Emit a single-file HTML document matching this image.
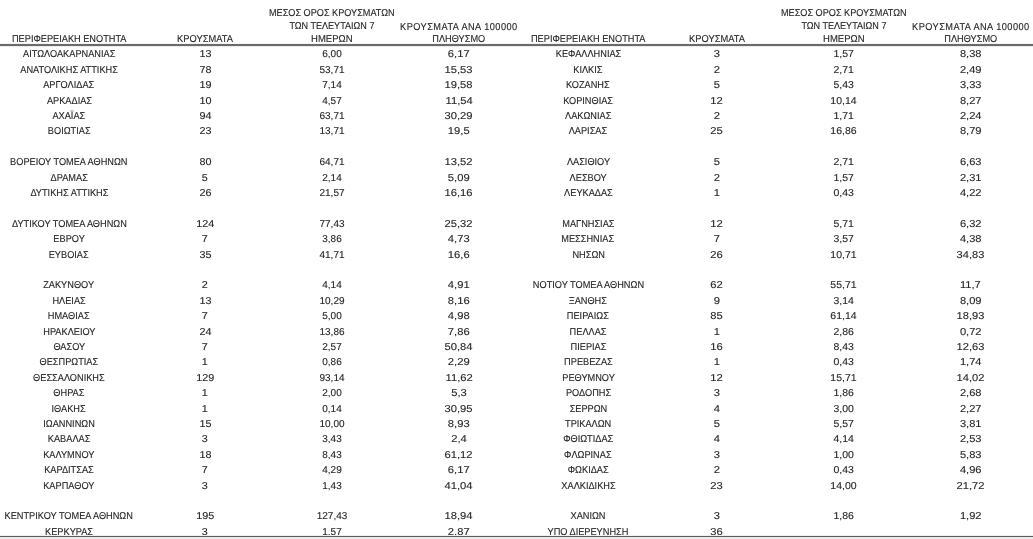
<!DOCTYPE html><html><head><meta charset="utf-8"><style>
html,body{margin:0;padding:0;background:#fff;width:1033px;height:539px;overflow:hidden;position:relative}body{filter:grayscale(1)}
body{font-family:"Liberation Sans",sans-serif;color:#262626;text-rendering:geometricPrecision}
.c{position:absolute;width:240px;text-align:center;white-space:nowrap;height:12px;line-height:12px}
.c span{display:inline-block;-webkit-text-stroke:0.12px #262626}
.k0{left:-51.00px;font-size:10px}.k0 span{transform:scaleX(0.92)}
.k1{left:85.20px;font-size:10px}.k1 span{transform:scaleX(1.08)}
.k2{left:212.00px;font-size:10px}.k2 span{transform:scaleX(1.0)}
.k3{left:339.00px;font-size:10px}.k3 span{transform:scaleX(1.12)}
.k4{left:468.20px;font-size:10px}.k4 span{transform:scaleX(0.92)}
.k5{left:597.00px;font-size:10px}.k5 span{transform:scaleX(1.12)}
.k6{left:724.00px;font-size:10px}.k6 span{transform:scaleX(1.05)}
.k7{left:850.70px;font-size:10px}.k7 span{transform:scaleX(1.11)}
.h0{left:-51.00px}
.h1{left:85.20px}
.h2{left:212.00px}
.h3{left:339.00px}
.h4{left:468.20px}
.h5{left:597.00px}
.h6{left:724.00px}
.h7{left:850.70px}
.ln{position:absolute;left:0;width:1033px}
</style></head><body>
<div class="c h0" style="top:33.50px;font-size:10px"><span style="transform:scaleX(0.92)">ΠΕΡΙΦΕΡΕΙΑΚΗ ΕΝΟΤΗΤΑ</span></div>
<div class="c h1" style="top:33.50px;font-size:10px"><span style="transform:scaleX(0.93)">ΚΡΟΥΣΜΑΤΑ</span></div>
<div class="c h2" style="top:7.50px;font-size:10px"><span style="transform:scaleX(0.913)">ΜΕΣΟΣ ΟΡΟΣ ΚΡΟΥΣΜΑΤΩΝ</span></div>
<div class="c h2" style="top:20.50px;font-size:10px"><span style="transform:scaleX(0.905)">ΤΩΝ ΤΕΛΕΥΤΑΙΩΝ 7</span></div>
<div class="c h2" style="top:33.50px;font-size:10px"><span style="transform:scaleX(0.95)">ΗΜΕΡΩΝ</span></div>
<div class="c h3" style="top:22.00px;font-size:10px"><span style="transform:scaleX(0.92);letter-spacing:0.5px">ΚΡΟΥΣΜΑΤΑ ΑΝΑ 100000</span></div>
<div class="c h3" style="top:33.50px;font-size:10px"><span style="transform:scaleX(0.92)">ΠΛΗΘΥΣΜΟ</span></div>
<div class="c h4" style="top:33.50px;font-size:10px"><span style="transform:scaleX(0.92)">ΠΕΡΙΦΕΡΕΙΑΚΗ ΕΝΟΤΗΤΑ</span></div>
<div class="c h5" style="top:33.50px;font-size:10px"><span style="transform:scaleX(0.93)">ΚΡΟΥΣΜΑΤΑ</span></div>
<div class="c h6" style="top:7.50px;font-size:10px"><span style="transform:scaleX(0.913)">ΜΕΣΟΣ ΟΡΟΣ ΚΡΟΥΣΜΑΤΩΝ</span></div>
<div class="c h6" style="top:20.50px;font-size:10px"><span style="transform:scaleX(0.905)">ΤΩΝ ΤΕΛΕΥΤΑΙΩΝ 7</span></div>
<div class="c h6" style="top:33.50px;font-size:10px"><span style="transform:scaleX(0.95)">ΗΜΕΡΩΝ</span></div>
<div class="c h7" style="top:22.00px;font-size:10px"><span style="transform:scaleX(0.92);letter-spacing:0.5px">ΚΡΟΥΣΜΑΤΑ ΑΝΑ 100000</span></div>
<div class="c h7" style="top:33.50px;font-size:10px"><span style="transform:scaleX(0.92)">ΠΛΗΘΥΣΜΟ</span></div>
<div class="ln" style="top:43px;height:1px;background:#f4f4f4"></div>
<div class="ln" style="top:44px;height:1px;background:#6a6a6a"></div>
<div class="ln" style="top:45px;height:1px;background:#6a6a6a"></div>
<div class="ln" style="top:46px;height:1px;background:#ececec"></div>
<div class="c k0" style="top:49.45px"><span>ΑΙΤΩΛΟΑΚΑΡΝΑΝΙΑΣ</span></div>
<div class="c k1" style="top:49.45px"><span>13</span></div>
<div class="c k2" style="top:49.45px"><span>6,00</span></div>
<div class="c k3" style="top:49.45px"><span>6,17</span></div>
<div class="c k0" style="top:64.85px"><span>ΑΝΑΤΟΛΙΚΗΣ ΑΤΤΙΚΗΣ</span></div>
<div class="c k1" style="top:64.85px"><span>78</span></div>
<div class="c k2" style="top:64.85px"><span>53,71</span></div>
<div class="c k3" style="top:64.85px"><span>15,53</span></div>
<div class="c k0" style="top:80.25px"><span>ΑΡΓΟΛΙΔΑΣ</span></div>
<div class="c k1" style="top:80.25px"><span>19</span></div>
<div class="c k2" style="top:80.25px"><span>7,14</span></div>
<div class="c k3" style="top:80.25px"><span>19,58</span></div>
<div class="c k0" style="top:95.65px"><span>ΑΡΚΑΔΙΑΣ</span></div>
<div class="c k1" style="top:95.65px"><span>10</span></div>
<div class="c k2" style="top:95.65px"><span>4,57</span></div>
<div class="c k3" style="top:95.65px"><span>11,54</span></div>
<div class="c k0" style="top:111.05px"><span>ΑΧΑΪΑΣ</span></div>
<div class="c k1" style="top:111.05px"><span>94</span></div>
<div class="c k2" style="top:111.05px"><span>63,71</span></div>
<div class="c k3" style="top:111.05px"><span>30,29</span></div>
<div class="c k0" style="top:126.45px"><span>ΒΟΙΩΤΙΑΣ</span></div>
<div class="c k1" style="top:126.45px"><span>23</span></div>
<div class="c k2" style="top:126.45px"><span>13,71</span></div>
<div class="c k3" style="top:126.45px"><span>19,5</span></div>
<div class="c k0" style="top:157.25px"><span>ΒΟΡΕΙΟΥ ΤΟΜΕΑ ΑΘΗΝΩΝ</span></div>
<div class="c k1" style="top:157.25px"><span>80</span></div>
<div class="c k2" style="top:157.25px"><span>64,71</span></div>
<div class="c k3" style="top:157.25px"><span>13,52</span></div>
<div class="c k0" style="top:172.65px"><span>ΔΡΑΜΑΣ</span></div>
<div class="c k1" style="top:172.65px"><span>5</span></div>
<div class="c k2" style="top:172.65px"><span>2,14</span></div>
<div class="c k3" style="top:172.65px"><span>5,09</span></div>
<div class="c k0" style="top:188.05px"><span>ΔΥΤΙΚΗΣ ΑΤΤΙΚΗΣ</span></div>
<div class="c k1" style="top:188.05px"><span>26</span></div>
<div class="c k2" style="top:188.05px"><span>21,57</span></div>
<div class="c k3" style="top:188.05px"><span>16,16</span></div>
<div class="c k0" style="top:218.85px"><span>ΔΥΤΙΚΟΥ ΤΟΜΕΑ ΑΘΗΝΩΝ</span></div>
<div class="c k1" style="top:218.85px"><span>124</span></div>
<div class="c k2" style="top:218.85px"><span>77,43</span></div>
<div class="c k3" style="top:218.85px"><span>25,32</span></div>
<div class="c k0" style="top:234.25px"><span>ΕΒΡΟΥ</span></div>
<div class="c k1" style="top:234.25px"><span>7</span></div>
<div class="c k2" style="top:234.25px"><span>3,86</span></div>
<div class="c k3" style="top:234.25px"><span>4,73</span></div>
<div class="c k0" style="top:249.65px"><span>ΕΥΒΟΙΑΣ</span></div>
<div class="c k1" style="top:249.65px"><span>35</span></div>
<div class="c k2" style="top:249.65px"><span>41,71</span></div>
<div class="c k3" style="top:249.65px"><span>16,6</span></div>
<div class="c k0" style="top:280.45px"><span>ΖΑΚΥΝΘΟΥ</span></div>
<div class="c k1" style="top:280.45px"><span>2</span></div>
<div class="c k2" style="top:280.45px"><span>4,14</span></div>
<div class="c k3" style="top:280.45px"><span>4,91</span></div>
<div class="c k0" style="top:295.85px"><span>ΗΛΕΙΑΣ</span></div>
<div class="c k1" style="top:295.85px"><span>13</span></div>
<div class="c k2" style="top:295.85px"><span>10,29</span></div>
<div class="c k3" style="top:295.85px"><span>8,16</span></div>
<div class="c k0" style="top:311.25px"><span>ΗΜΑΘΙΑΣ</span></div>
<div class="c k1" style="top:311.25px"><span>7</span></div>
<div class="c k2" style="top:311.25px"><span>5,00</span></div>
<div class="c k3" style="top:311.25px"><span>4,98</span></div>
<div class="c k0" style="top:326.65px"><span>ΗΡΑΚΛΕΙΟΥ</span></div>
<div class="c k1" style="top:326.65px"><span>24</span></div>
<div class="c k2" style="top:326.65px"><span>13,86</span></div>
<div class="c k3" style="top:326.65px"><span>7,86</span></div>
<div class="c k0" style="top:342.05px"><span>ΘΑΣΟΥ</span></div>
<div class="c k1" style="top:342.05px"><span>7</span></div>
<div class="c k2" style="top:342.05px"><span>2,57</span></div>
<div class="c k3" style="top:342.05px"><span>50,84</span></div>
<div class="c k0" style="top:357.45px"><span>ΘΕΣΠΡΩΤΙΑΣ</span></div>
<div class="c k1" style="top:357.45px"><span>1</span></div>
<div class="c k2" style="top:357.45px"><span>0,86</span></div>
<div class="c k3" style="top:357.45px"><span>2,29</span></div>
<div class="c k0" style="top:372.85px"><span>ΘΕΣΣΑΛΟΝΙΚΗΣ</span></div>
<div class="c k1" style="top:372.85px"><span>129</span></div>
<div class="c k2" style="top:372.85px"><span>93,14</span></div>
<div class="c k3" style="top:372.85px"><span>11,62</span></div>
<div class="c k0" style="top:388.25px"><span>ΘΗΡΑΣ</span></div>
<div class="c k1" style="top:388.25px"><span>1</span></div>
<div class="c k2" style="top:388.25px"><span>2,00</span></div>
<div class="c k3" style="top:388.25px"><span>5,3</span></div>
<div class="c k0" style="top:403.65px"><span>ΙΘΑΚΗΣ</span></div>
<div class="c k1" style="top:403.65px"><span>1</span></div>
<div class="c k2" style="top:403.65px"><span>0,14</span></div>
<div class="c k3" style="top:403.65px"><span>30,95</span></div>
<div class="c k0" style="top:419.05px"><span>ΙΩΑΝΝΙΝΩΝ</span></div>
<div class="c k1" style="top:419.05px"><span>15</span></div>
<div class="c k2" style="top:419.05px"><span>10,00</span></div>
<div class="c k3" style="top:419.05px"><span>8,93</span></div>
<div class="c k0" style="top:434.45px"><span>ΚΑΒΑΛΑΣ</span></div>
<div class="c k1" style="top:434.45px"><span>3</span></div>
<div class="c k2" style="top:434.45px"><span>3,43</span></div>
<div class="c k3" style="top:434.45px"><span>2,4</span></div>
<div class="c k0" style="top:449.85px"><span>ΚΑΛΥΜΝΟΥ</span></div>
<div class="c k1" style="top:449.85px"><span>18</span></div>
<div class="c k2" style="top:449.85px"><span>8,43</span></div>
<div class="c k3" style="top:449.85px"><span>61,12</span></div>
<div class="c k0" style="top:465.25px"><span>ΚΑΡΔΙΤΣΑΣ</span></div>
<div class="c k1" style="top:465.25px"><span>7</span></div>
<div class="c k2" style="top:465.25px"><span>4,29</span></div>
<div class="c k3" style="top:465.25px"><span>6,17</span></div>
<div class="c k0" style="top:480.65px"><span>ΚΑΡΠΑΘΟΥ</span></div>
<div class="c k1" style="top:480.65px"><span>3</span></div>
<div class="c k2" style="top:480.65px"><span>1,43</span></div>
<div class="c k3" style="top:480.65px"><span>41,04</span></div>
<div class="c k0" style="top:511.45px"><span>ΚΕΝΤΡΙΚΟΥ ΤΟΜΕΑ ΑΘΗΝΩΝ</span></div>
<div class="c k1" style="top:511.45px"><span>195</span></div>
<div class="c k2" style="top:511.45px"><span>127,43</span></div>
<div class="c k3" style="top:511.45px"><span>18,94</span></div>
<div class="c k0" style="top:526.85px"><span>ΚΕΡΚΥΡΑΣ</span></div>
<div class="c k1" style="top:526.85px"><span>3</span></div>
<div class="c k2" style="top:526.85px"><span>1,57</span></div>
<div class="c k3" style="top:526.85px"><span>2,87</span></div>
<div class="c k4" style="top:49.45px"><span>ΚΕΦΑΛΛΗΝΙΑΣ</span></div>
<div class="c k5" style="top:49.45px"><span>3</span></div>
<div class="c k6" style="top:49.45px"><span>1,57</span></div>
<div class="c k7" style="top:49.45px"><span>8,38</span></div>
<div class="c k4" style="top:64.85px"><span>ΚΙΛΚΙΣ</span></div>
<div class="c k5" style="top:64.85px"><span>2</span></div>
<div class="c k6" style="top:64.85px"><span>2,71</span></div>
<div class="c k7" style="top:64.85px"><span>2,49</span></div>
<div class="c k4" style="top:80.25px"><span>ΚΟΖΑΝΗΣ</span></div>
<div class="c k5" style="top:80.25px"><span>5</span></div>
<div class="c k6" style="top:80.25px"><span>5,43</span></div>
<div class="c k7" style="top:80.25px"><span>3,33</span></div>
<div class="c k4" style="top:95.65px"><span>ΚΟΡΙΝΘΙΑΣ</span></div>
<div class="c k5" style="top:95.65px"><span>12</span></div>
<div class="c k6" style="top:95.65px"><span>10,14</span></div>
<div class="c k7" style="top:95.65px"><span>8,27</span></div>
<div class="c k4" style="top:111.05px"><span>ΛΑΚΩΝΙΑΣ</span></div>
<div class="c k5" style="top:111.05px"><span>2</span></div>
<div class="c k6" style="top:111.05px"><span>1,71</span></div>
<div class="c k7" style="top:111.05px"><span>2,24</span></div>
<div class="c k4" style="top:126.45px"><span>ΛΑΡΙΣΑΣ</span></div>
<div class="c k5" style="top:126.45px"><span>25</span></div>
<div class="c k6" style="top:126.45px"><span>16,86</span></div>
<div class="c k7" style="top:126.45px"><span>8,79</span></div>
<div class="c k4" style="top:157.25px"><span>ΛΑΣΙΘΙΟΥ</span></div>
<div class="c k5" style="top:157.25px"><span>5</span></div>
<div class="c k6" style="top:157.25px"><span>2,71</span></div>
<div class="c k7" style="top:157.25px"><span>6,63</span></div>
<div class="c k4" style="top:172.65px"><span>ΛΕΣΒΟΥ</span></div>
<div class="c k5" style="top:172.65px"><span>2</span></div>
<div class="c k6" style="top:172.65px"><span>1,57</span></div>
<div class="c k7" style="top:172.65px"><span>2,31</span></div>
<div class="c k4" style="top:188.05px"><span>ΛΕΥΚΑΔΑΣ</span></div>
<div class="c k5" style="top:188.05px"><span>1</span></div>
<div class="c k6" style="top:188.05px"><span>0,43</span></div>
<div class="c k7" style="top:188.05px"><span>4,22</span></div>
<div class="c k4" style="top:218.85px"><span>ΜΑΓΝΗΣΙΑΣ</span></div>
<div class="c k5" style="top:218.85px"><span>12</span></div>
<div class="c k6" style="top:218.85px"><span>5,71</span></div>
<div class="c k7" style="top:218.85px"><span>6,32</span></div>
<div class="c k4" style="top:234.25px"><span>ΜΕΣΣΗΝΙΑΣ</span></div>
<div class="c k5" style="top:234.25px"><span>7</span></div>
<div class="c k6" style="top:234.25px"><span>3,57</span></div>
<div class="c k7" style="top:234.25px"><span>4,38</span></div>
<div class="c k4" style="top:249.65px"><span>ΝΗΣΩΝ</span></div>
<div class="c k5" style="top:249.65px"><span>26</span></div>
<div class="c k6" style="top:249.65px"><span>10,71</span></div>
<div class="c k7" style="top:249.65px"><span>34,83</span></div>
<div class="c k4" style="top:280.45px"><span>ΝΟΤΙΟΥ ΤΟΜΕΑ ΑΘΗΝΩΝ</span></div>
<div class="c k5" style="top:280.45px"><span>62</span></div>
<div class="c k6" style="top:280.45px"><span>55,71</span></div>
<div class="c k7" style="top:280.45px"><span>11,7</span></div>
<div class="c k4" style="top:295.85px"><span>ΞΑΝΘΗΣ</span></div>
<div class="c k5" style="top:295.85px"><span>9</span></div>
<div class="c k6" style="top:295.85px"><span>3,14</span></div>
<div class="c k7" style="top:295.85px"><span>8,09</span></div>
<div class="c k4" style="top:311.25px"><span>ΠΕΙΡΑΙΩΣ</span></div>
<div class="c k5" style="top:311.25px"><span>85</span></div>
<div class="c k6" style="top:311.25px"><span>61,14</span></div>
<div class="c k7" style="top:311.25px"><span>18,93</span></div>
<div class="c k4" style="top:326.65px"><span>ΠΕΛΛΑΣ</span></div>
<div class="c k5" style="top:326.65px"><span>1</span></div>
<div class="c k6" style="top:326.65px"><span>2,86</span></div>
<div class="c k7" style="top:326.65px"><span>0,72</span></div>
<div class="c k4" style="top:342.05px"><span>ΠΙΕΡΙΑΣ</span></div>
<div class="c k5" style="top:342.05px"><span>16</span></div>
<div class="c k6" style="top:342.05px"><span>8,43</span></div>
<div class="c k7" style="top:342.05px"><span>12,63</span></div>
<div class="c k4" style="top:357.45px"><span>ΠΡΕΒΕΖΑΣ</span></div>
<div class="c k5" style="top:357.45px"><span>1</span></div>
<div class="c k6" style="top:357.45px"><span>0,43</span></div>
<div class="c k7" style="top:357.45px"><span>1,74</span></div>
<div class="c k4" style="top:372.85px"><span>ΡΕΘΥΜΝΟΥ</span></div>
<div class="c k5" style="top:372.85px"><span>12</span></div>
<div class="c k6" style="top:372.85px"><span>15,71</span></div>
<div class="c k7" style="top:372.85px"><span>14,02</span></div>
<div class="c k4" style="top:388.25px"><span>ΡΟΔΟΠΗΣ</span></div>
<div class="c k5" style="top:388.25px"><span>3</span></div>
<div class="c k6" style="top:388.25px"><span>1,86</span></div>
<div class="c k7" style="top:388.25px"><span>2,68</span></div>
<div class="c k4" style="top:403.65px"><span>ΣΕΡΡΩΝ</span></div>
<div class="c k5" style="top:403.65px"><span>4</span></div>
<div class="c k6" style="top:403.65px"><span>3,00</span></div>
<div class="c k7" style="top:403.65px"><span>2,27</span></div>
<div class="c k4" style="top:419.05px"><span>ΤΡΙΚΑΛΩΝ</span></div>
<div class="c k5" style="top:419.05px"><span>5</span></div>
<div class="c k6" style="top:419.05px"><span>5,57</span></div>
<div class="c k7" style="top:419.05px"><span>3,81</span></div>
<div class="c k4" style="top:434.45px"><span>ΦΘΙΩΤΙΔΑΣ</span></div>
<div class="c k5" style="top:434.45px"><span>4</span></div>
<div class="c k6" style="top:434.45px"><span>4,14</span></div>
<div class="c k7" style="top:434.45px"><span>2,53</span></div>
<div class="c k4" style="top:449.85px"><span>ΦΛΩΡΙΝΑΣ</span></div>
<div class="c k5" style="top:449.85px"><span>3</span></div>
<div class="c k6" style="top:449.85px"><span>1,00</span></div>
<div class="c k7" style="top:449.85px"><span>5,83</span></div>
<div class="c k4" style="top:465.25px"><span>ΦΩΚΙΔΑΣ</span></div>
<div class="c k5" style="top:465.25px"><span>2</span></div>
<div class="c k6" style="top:465.25px"><span>0,43</span></div>
<div class="c k7" style="top:465.25px"><span>4,96</span></div>
<div class="c k4" style="top:480.65px"><span>ΧΑΛΚΙΔΙΚΗΣ</span></div>
<div class="c k5" style="top:480.65px"><span>23</span></div>
<div class="c k6" style="top:480.65px"><span>14,00</span></div>
<div class="c k7" style="top:480.65px"><span>21,72</span></div>
<div class="c k4" style="top:511.45px"><span>ΧΑΝΙΩΝ</span></div>
<div class="c k5" style="top:511.45px"><span>3</span></div>
<div class="c k6" style="top:511.45px"><span>1,86</span></div>
<div class="c k7" style="top:511.45px"><span>1,92</span></div>
<div class="c k4" style="top:526.85px"><span>ΥΠΟ ΔΙΕΡΕΥΝΗΣΗ</span></div>
<div class="c k5" style="top:526.85px"><span>36</span></div>
<div class="ln" style="top:535px;height:1px;background:#f0f0f0"></div>
<div class="ln" style="top:536px;height:1px;background:#5a5a5a"></div>
<div class="ln" style="top:537px;height:1px;background:#eaeaea"></div>
<div class="ln" style="top:538px;height:1px;background:#ececec"></div>
</body></html>
